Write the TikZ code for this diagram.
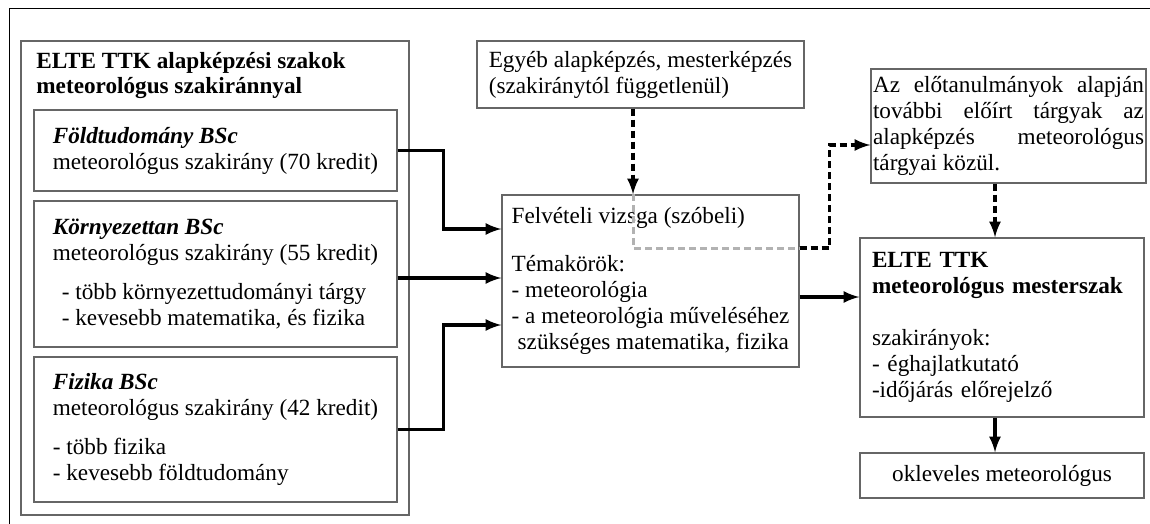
\documentclass[tikz,border=0pt]{standalone}
\usepackage{fontspec}
\setmainfont{Liberation Serif}

\begin{document}
\begin{tikzpicture}[x=0.5pt,y=-0.5pt,
  every node/.style={font=\fontsize{11.6}{13}\selectfont},
  box/.style={draw=black!60, line width=0.7pt, align=left, inner sep=0pt},
  conn/.style={-latex, line width=1.7pt},
  dashconn/.style={conn, dash pattern=on 3.5pt off 2pt},
  grayconn/.style={line width=1.5pt, black!30, dash pattern=on 3.5pt off 2pt}]
  \useasboundingbox (0,0) rectangle (1150,524);
  \draw[line width=0.5pt] (9,524) -- (9,9) -- (1150,9);

  % alapkepzesek
  \node[box, minimum width=194pt, minimum height=237pt] (alap) at (215,278) {};
  \node[anchor=west, inner sep=0pt, align=left, font=\fontsize{11.6}{13}\selectfont\bfseries] (alapcim) at (36,75.5) {ELTE TTK alapképzési szakok\\meteorológus szakiránnyal};
  \node[box, minimum width=181.5pt, minimum height=40.5pt] (foldt) at (215.5,150.5) {\textbf{\textit{Földtudomány BSc}}\\meteorológus szakirány (70 kredit)};
  \node[box, minimum width=181.5pt, minimum height=73pt] (korny) at (215.5,274) {\textbf{\textit{Környezettan BSc}}\\meteorológus szakirány (55 kredit)\\[6.5pt]\hspace*{4.5pt}- több környezettudományi tárgy\\\hspace*{4.5pt}- kevesebb matematika, és fizika};
  \node[box, minimum width=181.5pt, minimum height=72.5pt] (fiz) at (215.5,429.5) {\textbf{\textit{Fizika BSc}}\\meteorológus szakirány (42 kredit)\\[6.5pt]- több fizika\\- kevesebb földtudomány};

  % felveteli
  \node[box, minimum width=163.5pt, minimum height=33.5pt] (egyeb) at (640.5,74.5) {Egyéb alapképzés, mesterképzés\\(szakiránytól függetlenül)};
  \node[box, minimum width=148.5pt, minimum height=86pt] (felv) at (650.5,281) {Felvételi vizsga (szóbeli)\\[11pt]Témakörök:\\- meteorológia\\- a meteorológia műveléséhez\\\hspace*{3pt}szükséges matematika, fizika};

  % mesterszak
  \node[box, minimum width=137.5pt, minimum height=57pt, inner xsep=1pt, text width=135.5pt, align=justify] (elot) at (1008.5,126) {Az előtanulmányok alapján\linebreak további előírt tárgyak az\linebreak alapképzés meteorológus\linebreak tárgyai közül.};
  \node[box, minimum width=142pt, minimum height=89.5pt, inner xsep=6pt, text width=130pt] (mester) at (1002,327.5) {\textbf{ELTE TTK}\\\textbf{meteorológus mesterszak}\\[13pt]szakirányok:\\- éghajlatkutató\\-időjárás előrejelző};
  \node[box, minimum width=142pt, minimum height=22.5pt, align=center] (okl) at (1002,475.5) {okleveles meteorológus};

  % nyilak
  \draw[conn] (foldt.east) -- ++(46,0) |- ([yshift=26pt]felv.west);
  \coordinate (kornybe) at ([yshift=1.5pt]felv.west);
  \draw[conn] (korny.east |- kornybe) -- (kornybe);
  \draw[conn] (fiz.east) -- ++(46,0) |- ([yshift=-22pt]felv.west);

  \coordinate (egyebki) at ([xshift=-3.75pt]egyeb.south);
  \coordinate (felvki) at ([yshift=16.5pt]felv.east);
  \draw[grayconn] (egyebki |- felv.north) |- (felvki);
  \draw[dashconn] (egyebki) -- (egyebki |- felv.north);
  \coordinate (elotbe) at ([yshift=-9.5pt]elot.west);
  \draw[dashconn] (felvki) -- ++(30,0) |- (elotbe);

  \coordinate (mesterbe) at ([xshift=-3.5pt]mester.north);
  \draw[dashconn] (mesterbe |- elot.south) -- (mesterbe);
  \coordinate (felvki2) at ([yshift=-8pt]felv.east);
  \draw[conn] (felvki2) -- (felvki2 -| mester.west);
  \draw[conn] (mesterbe |- mester.south) -- (mesterbe |- okl.north);
\end{tikzpicture}
\end{document}
